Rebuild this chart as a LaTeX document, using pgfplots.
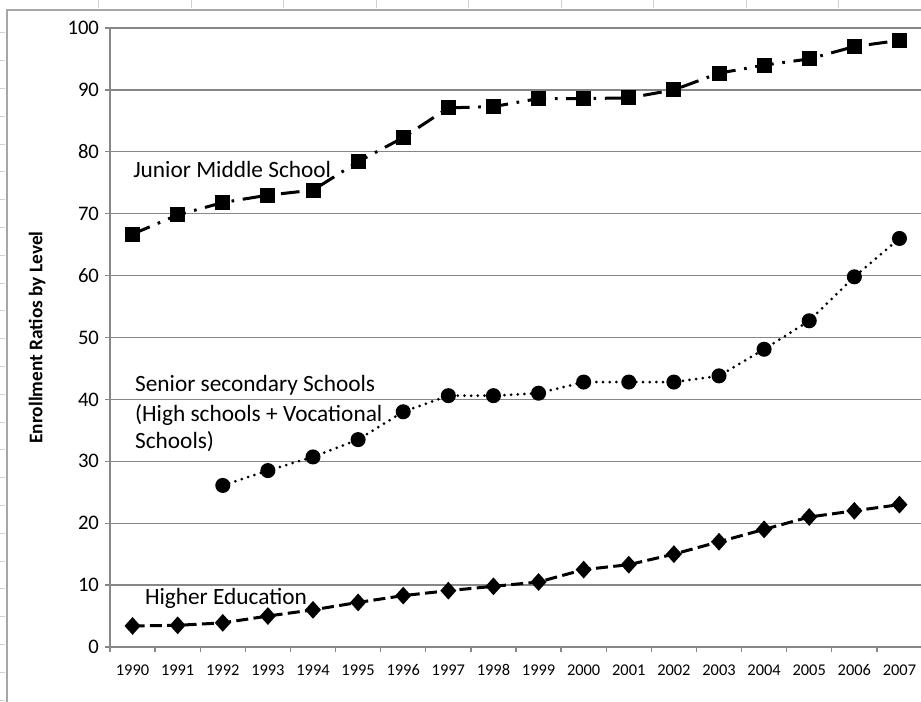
\documentclass[border=0pt]{standalone}
\usepackage{fontspec}
\setmainfont{Carlito}
\usepackage{pgfplots}
\pgfplotsset{compat=1.18}
\definecolor{gridgray}{HTML}{878787}
\definecolor{sheetblue}{HTML}{C9D3E2}
\definecolor{framegray}{HTML}{A6A6A6}
\begin{document}
\begin{tikzpicture}[x=0.75pt,y=0.75pt]
\useasboundingbox (0,0) rectangle (921,702);
% spreadsheet background marks
\foreach \xx in {98,191,283,376,468,561,653,746,838}
  \draw[sheetblue,line width=0.75pt] (\xx,702) -- (\xx,694);
\foreach \k in {0,...,24}
  \draw[sheetblue,line width=0.75pt] (0,{669-27.8*\k}) -- (5,{669-27.8*\k});
\draw[framegray,line width=1.5pt] (7,0) -- (7,692) -- (921,692);
\begin{axis}[
  at={(82.5pt,41.25pt)}, anchor=south west,
  width=609pt, height=464.25pt, scale only axis,
  xmin=-0.5, xmax=17.5, ymin=0, ymax=100,
  axis lines*=left,
  axis line style={gridgray, line width=1pt},
  ymajorgrids, grid style={gridgray, line width=1pt},
  ytick={0,10,...,100},
  xtick={0,...,17},
  xticklabels={1990,1991,1992,1993,1994,1995,1996,1997,1998,1999,2000,2001,2002,2003,2004,2005,2006,2007},
  minor xtick={-0.5,0.5,1.5,2.5,3.5,4.5,5.5,6.5,7.5,8.5,9.5,10.5,11.5,12.5,13.5,14.5,15.5,16.5,17.5},
  tick align=outside,
  major tick length=3.75pt, minor tick length=3.75pt,
  tick style={gridgray, line width=1pt},
  major x tick style={draw=none},
  /pgf/number format/assume math mode=true,
  yticklabel style={font=\fontsize{15.5}{18}\selectfont, text=black, xshift=-1pt},
  xticklabel style={font=\fontsize{12.3}{14}\selectfont, text=black, yshift=-6pt},
  ylabel={\bfseries Enrollment Ratios by Level},
  every axis y label/.style={at={(axis description cs:0,0.5)}, xshift=-54.75pt, rotate=90, anchor=center, font=\fontsize{14.5}{17}\selectfont},
  clip=false,
]
\addplot[black, line width=2.25pt, dash pattern=on 14pt off 6.5pt on 2pt off 6.5pt,
  mark=square*, mark size=4.5pt, mark options={solid}] coordinates {
(0,66.7) (1,69.8) (2,71.8) (3,73.0) (4,73.8) (5,78.4) (6,82.3) (7,87.1) (8,87.3)
(9,88.6) (10,88.6) (11,88.7) (12,90.0) (13,92.7) (14,94.0) (15,95.0) (16,97.0) (17,98.0)};
\addplot[black, line width=2.25pt, dash pattern=on 0pt off 5pt, line cap=round,
  mark=*, mark size=4.5pt, mark options={solid}] coordinates {
(2,26.1) (3,28.5) (4,30.7) (5,33.5) (6,38.0) (7,40.6) (8,40.6) (9,41.0) (10,42.8)
(11,42.8) (12,42.8) (13,43.8) (14,48.1) (15,52.7) (16,59.8) (17,66.0)};
\addplot[black, line width=2.25pt, dash pattern=on 9pt off 4pt,
  mark=diamond*, mark size=5pt, mark options={solid, xscale=1.2}] coordinates {
(0,3.4) (1,3.5) (2,3.9) (3,5.0) (4,6.0) (5,7.2) (6,8.3) (7,9.1) (8,9.8)
(9,10.5) (10,12.5) (11,13.3) (12,15.0) (13,17.0) (14,19.0) (15,21.0) (16,22.0) (17,23.0)};
\begin{scope}[every node/.style={inner sep=0pt, anchor=base west, font=\fontsize{17.5}{21}\selectfont}]
\node at (axis cs:0.01,75.9) {Junior Middle School};
\node at (axis cs:0.05,41.2) {Senior secondary Schools};
\node at (axis cs:0.05,36.35) {(High schools + Vocational};
\node at (axis cs:0.05,32.1) {Schools)};
\node at (axis cs:0.27,6.8) {Higher Education};
\end{scope}
\end{axis}
\end{tikzpicture}
\end{document}
